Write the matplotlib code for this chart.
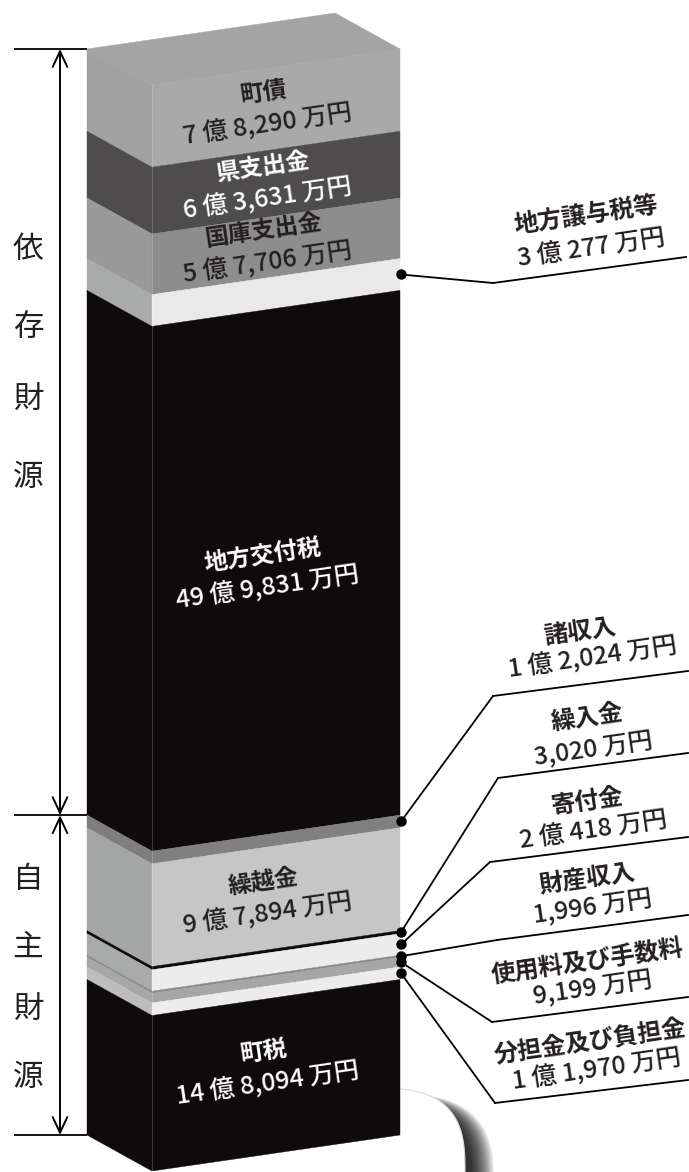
import matplotlib
matplotlib.use("Agg")
import matplotlib.pyplot as plt
from matplotlib.patches import Polygon, Rectangle, ConnectionPatch
from matplotlib import transforms
import numpy as np

plt.rcParams['font.family'] = ['Noto Sans CJK JP', 'DejaVu Sans']

# ---------------- data (万円) ----------------
categories = ['町債', '県支出金', '国庫支出金', '地方譲与税等', '地方交付税',
              '諸収入', '繰越金', '繰入金', '寄付金', '財産収入',
              '使用料及び手数料', '分担金及び負担金', '町税']
values = [78290, 63631, 57706, 30277, 499831,
          12024, 97894, 3020, 20418, 1996,
          9199, 11970, 148094]
value_labels = ['7 億 8,290 万円', '6 億 3,631 万円', '5 億 7,706 万円', '3 億 277 万円',
                '49 億 9,831 万円', '1 億 2,024 万円', '9 億 7,894 万円', '3,020 万円',
                '2 億 418 万円', '1,996 万円', '9,199 万円', '1 億 1,970 万円',
                '14 億 8,094 万円']
n_dependent = 5          # first five items = 依存財源, rest = 自主財源
group_labels = ['依存財源', '自主財源']

# ---------------- styles ----------------
front_colors = ['#a9a9a9', '#4e4c4d', '#8d8d8d', '#e9e9e9', '#0f0b0c',
                '#808080', '#c6c6c6', '#0f0b0c', '#ececec', '#8a8a8a',
                '#a6a6a6', '#ececec', '#0f0b0c']
side_colors = ['#a2a2a2', '#4e4c4d', '#999999', '#a9abaa', '#0f0b0c',
               '#7e7e7e', '#a4a6a5', '#0f0b0c', '#a9abaa', '#8a8a8a',
               '#a6a8a7', '#bdbdbd', '#0f0b0c']
top_color = '#a4a4a4'
DARK = '#231f20'

inside = {  # label color, extra shift (px, + = down)
    '町債': (DARK, 0), '県支出金': ('white', 0), '国庫支出金': (DARK, 0),
    '地方交付税': ('white', 0), '繰越金': (DARK, 0), '町税': ('white', -8)}
outside = {  # name centre, value centre, elbow, underline end  (pixels)
    '地方譲与税等': ((586, 215), (591, 248), (493, 283), (686, 257)),
    '諸収入': ((580, 632), (593, 658), (493, 696), (688, 671)),
    '繰入金': ((587, 718), (593, 750), (498, 778), (688, 753)),
    '寄付金': ((587, 802), (593, 830), (490, 862), (688, 837)),
    '財産収入': ((587, 880), (593, 908), (497, 940), (688, 915)),
    '使用料及び手数料': ((587, 962), (593, 989), (492, 1022), (688, 997)),
    '分担金及び負担金': ((590, 1043), (597, 1070), (495, 1103), (688, 1080)),
}

W, H = 689, 1172
TOP = 49          # pixel of top of the stack (left edge)
HEIGHT = 1086     # pixel height of the stack
XL, XF, XR = 87, 152, 400
SK = 36           # slant in pixels
ANG = np.degrees(np.arctan2(SK, XR - XF))

total = float(sum(values))
s = HEIGHT / total            # px per 万円
dv = SK / s                   # slant in value units

fig = plt.figure(figsize=(W / 100, H / 100), dpi=100)
axp = fig.add_axes([0, 0, 1, 1])
axp.set_xlim(0, W)
axp.set_ylim(H, 0)
axp.axis('off')

ax = fig.add_axes([0, 0, 1, 1])
ax.set_xlim(0, W)
ax.set_ylim((H - TOP) / s, -TOP / s)
ax.axis('off')
ax.patch.set_visible(False)

# ---------------- shadowed plate at bottom right ----------------
def superellipse(cx, cy, a, b, n=3.0, m=240):
    t = np.linspace(0, 2 * np.pi, m)
    c, si = np.cos(t), np.sin(t)
    x = cx + a * np.sign(c) * np.abs(c) ** (2 / n)
    y = cy - b * np.sign(si) * np.abs(si) ** (2 / n)
    return np.column_stack([x, y])

pcx, pcy, pa, pb = 370, 1174, 95, 86
clip = Rectangle((398, 1000), 300, 200, transform=axp.transData)
for i in range(22):
    p = Polygon(superellipse(pcx + 6, pcy + 12, pa + i * 1.1, pb + i * 0.35),
                closed=True, fc='black', ec='none', alpha=0.065, zorder=1)
    axp.add_patch(p)
    p.set_clip_path(clip)
plate = Polygon(superellipse(pcx, pcy, pa, pb), closed=True,
                fc='white', ec='#d9d9d9', lw=0.8, zorder=2)
axp.add_patch(plate)
plate.set_clip_path(clip)

# ---------------- the 3D column ----------------
cum = np.concatenate([[0], np.cumsum(values)])
for i, v in enumerate(values):
    c0, c1 = cum[i], cum[i + 1]
    ax.add_patch(Polygon([(XL, c0), (XF, c0 + dv), (XF, c1 + dv), (XL, c1)],
                         closed=True, fc=side_colors[i], ec=side_colors[i], lw=0.3, zorder=3))
    ax.add_patch(Polygon([(XF, c0 + dv), (XR, c0), (XR, c1), (XF, c1 + dv)],
                         closed=True, fc=front_colors[i], ec=front_colors[i], lw=0.3, zorder=3))
# top face
ax.add_patch(Polygon([(XL, 0), (XF, dv), (XR, 0), (XR - (XF - XL), -dv)],
                     closed=True, fc=top_color, ec=top_color, lw=0.3, zorder=3))
ax.plot([XF, XF], [dv, total + dv], color='white', lw=0.4, alpha=0.35, zorder=4)

# inside labels
for i, name in enumerate(categories):
    if name not in inside:
        continue
    col, shift = inside[name]
    mid = (cum[i] + cum[i + 1]) / 2
    base = mid + dv * (XR - 265) / (XR - XF) + shift / s
    tn = transforms.offset_copy(ax.transData, fig=fig, x=-2, y=17, units='dots')
    tv = transforms.offset_copy(ax.transData, fig=fig, x=3, y=-15, units='dots')
    ax.text(265, base, name, transform=tn, rotation=ANG, rotation_mode='anchor',
            ha='center', va='center', color=col, fontsize=17, fontweight='bold', zorder=6)
    ax.text(265, base, value_labels[i], transform=tv, rotation=ANG, rotation_mode='anchor',
            ha='center', va='center', color=col, fontsize=18, fontweight='medium', zorder=6)

# outside labels with leaders
for i, name in enumerate(categories):
    if name not in outside:
        continue
    (nx, ny), (vx, vy), (ex, ey), (ux, uy) = outside[name]
    mid = (cum[i] + cum[i + 1]) / 2
    ax.plot([XR + 1], [mid], 'o', color='black', ms=6.5, zorder=7)
    con = ConnectionPatch(xyA=(XR + 1, mid), coordsA=ax.transData,
                          xyB=(ex, ey), coordsB=axp.transData,
                          color='black', lw=1.3, zorder=7)
    fig.add_artist(con)
    axp.plot([ex, ux], [ey, uy], color='black', lw=1.3, zorder=7)
    axp.text(nx, ny, name, rotation=ANG, rotation_mode='anchor', ha='center', va='center',
             color=DARK, fontsize=17.5, fontweight='bold', zorder=7)
    axp.text(vx, vy, value_labels[i], rotation=ANG, rotation_mode='anchor', ha='center',
             va='center', color=DARK, fontsize=18, fontweight='medium', zorder=7)

# ---------------- group brackets ----------------
dep_total = cum[n_dependent]
ax.hlines([0, dep_total, total], 14, XL, color='black', lw=1.3, zorder=5)
astyle = '<->,head_length=0.75,head_width=0.35'
for a, b in [(0, dep_total), (dep_total, total)]:
    ax.annotate('', xy=(60, a), xytext=(60, b),
                arrowprops=dict(arrowstyle=astyle, lw=1.4, color='black',
                                mutation_scale=15, shrinkA=0, shrinkB=0), zorder=5)

for label, ys in zip(group_labels, [[250, 327, 400, 477], [880, 947, 1010, 1077]]):
    for ch, y in zip(label, ys):
        axp.text(28, y, ch, ha='center', va='center', fontsize=22, color=DARK)

fig.savefig('out.png', dpi=100)
